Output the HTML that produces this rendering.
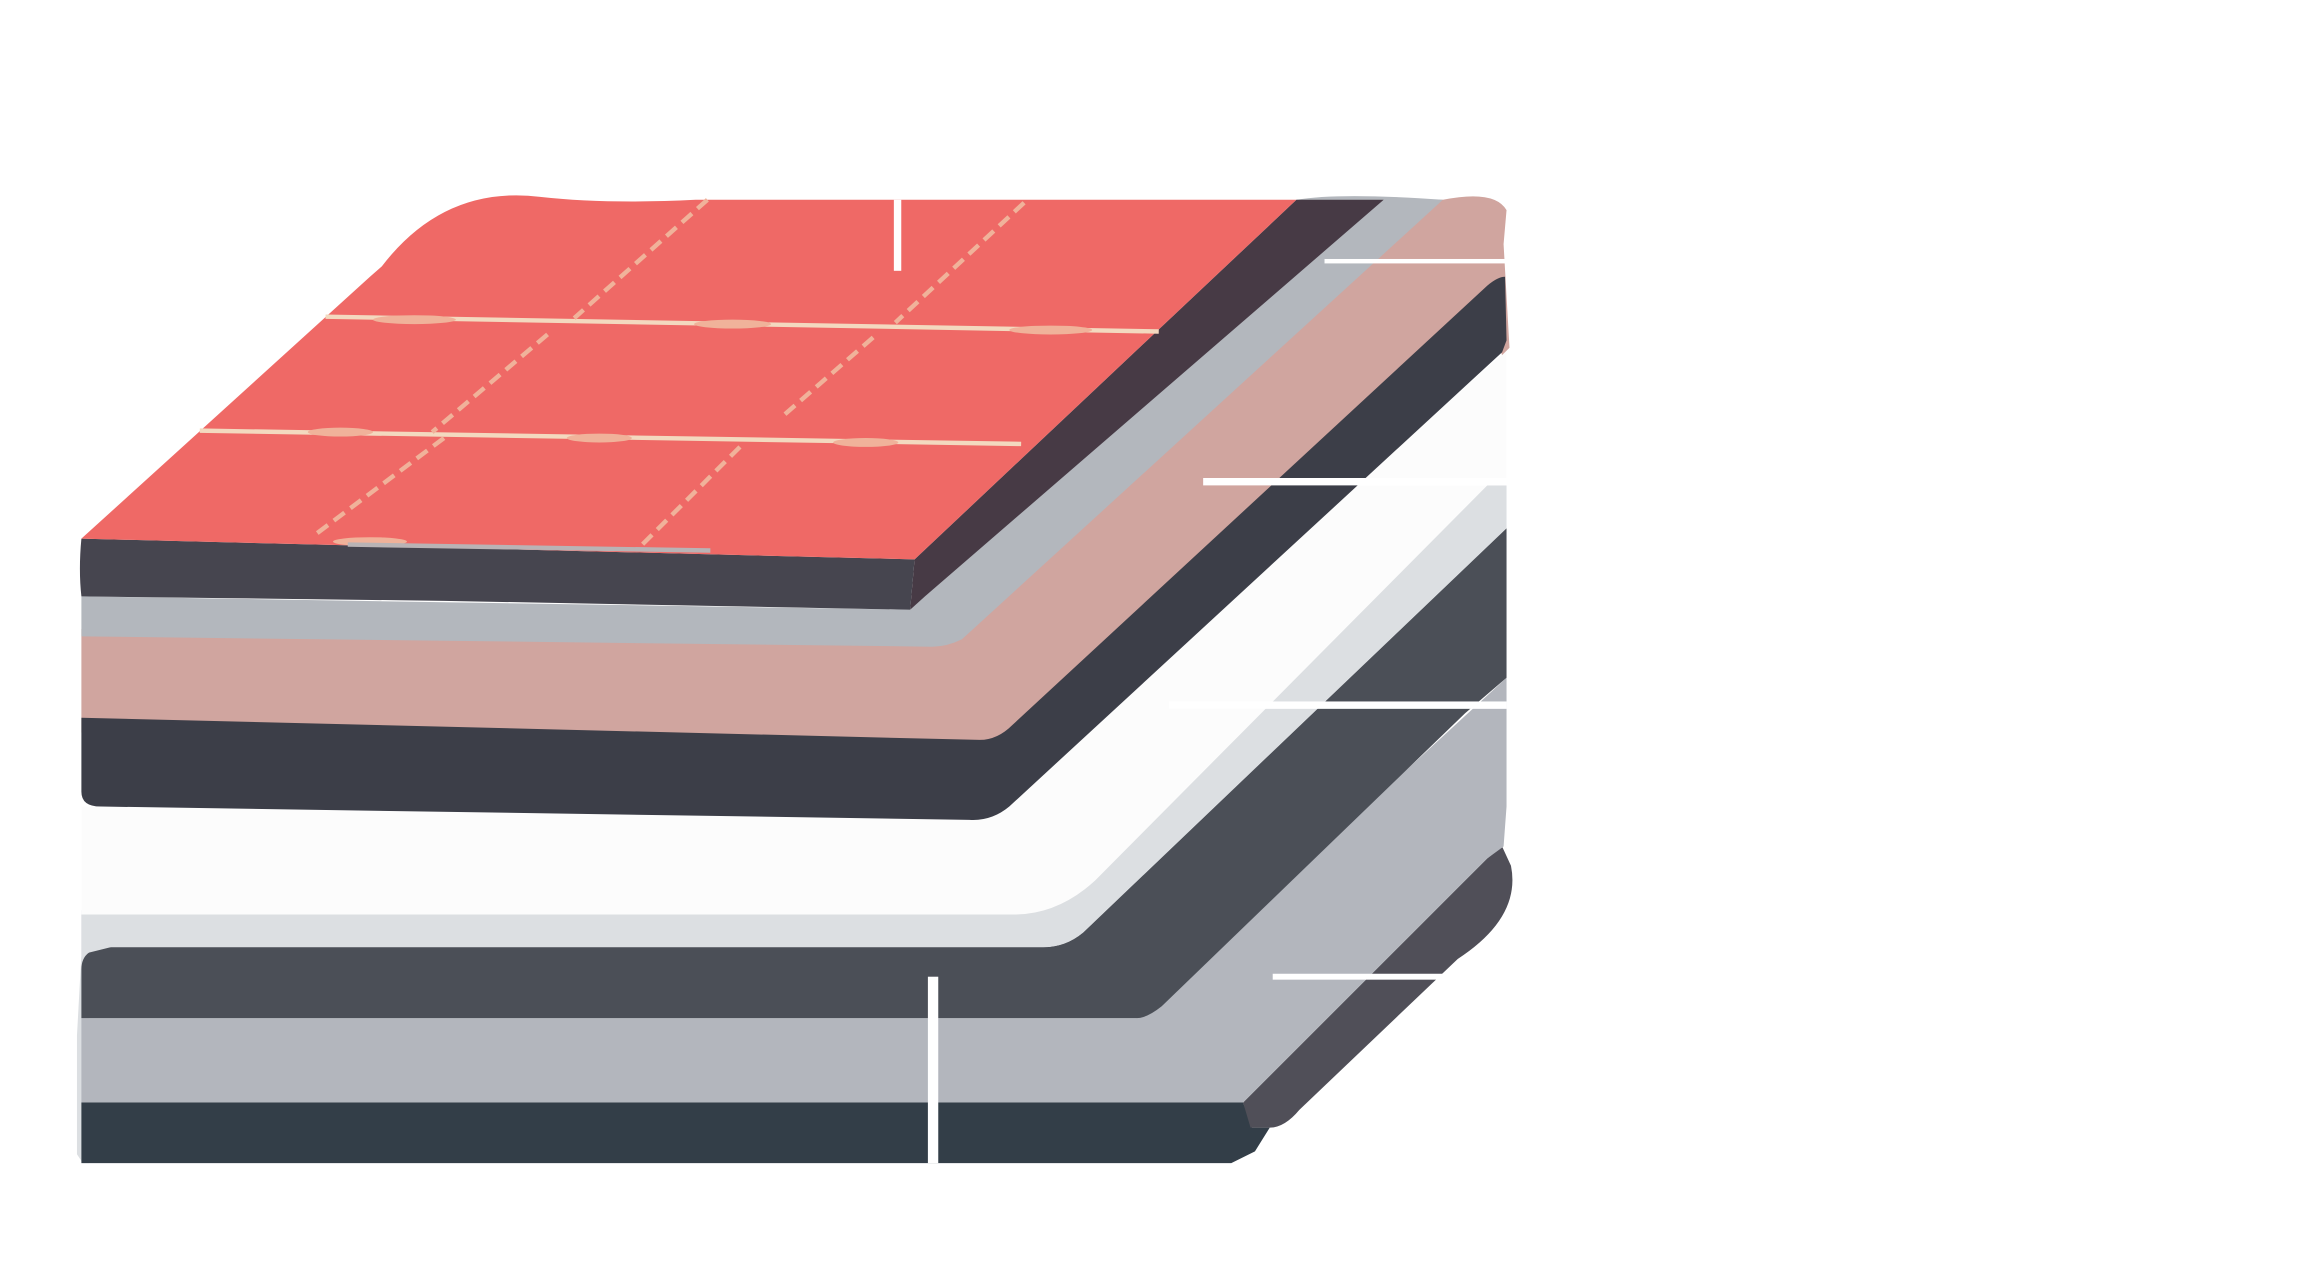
<!DOCTYPE html>
<html><head><meta charset="utf-8"><style>
html,body{margin:0;padding:0;background:#fff;width:2319px;height:1286px;overflow:hidden}
svg{display:block}
</style></head><body>
<svg width="2319" height="1286" viewBox="0 0 1567 869" preserveAspectRatio="none" xmlns="http://www.w3.org/2000/svg">
<rect width="1567" height="869" fill="#fff"/>
<path d="M55,615 L55,645 L52,700 L52,780 L56,786 L60,786 L60,620 Z" fill="#dcdfe2"/>
<path d="M55,745 L840,745 L846,762 L858,762 L848,778 L832,786 L55,786 Z" fill="#333e48"/>
<path d="M840,745 L955,630 L1005,580 L1015,572 L1021,585 Q1028,620 985,648 L878,750 Q868,762 858,762 L845,762 Z" fill="#504f58"/>
<path d="M55,688 L768,688 L1018,458 L1018,545 L1016,572 L1005,580 L955,630 L840,745 L55,745 Z" fill="#b3b6bd"/>
<path d="M55,655 Q55,640 75,640 L705,640 Q720,640 732,630 L1018,357 L1018,458 L990,482 L785,680 Q775,688 768,688 L55,688 Z" fill="#4b4f57"/>
<path d="M55,618 L685,618 L1005,328 L1018,328 L1018,357 L732,630 Q720,640 705,640 L75,640 L55,645 Z" fill="#dcdfe2"/>
<path d="M55,545 L655,553 L1018,237 L1018,328 L1005,328 L740,595 Q715,618 685,618 L55,618 Z" fill="#fcfcfc"/>
<path d="M55,425 L640,425 L935,135 L975,135 Q1010,128 1018,142 L1016,165 L1020,235 L1015,240 L1000,200 L695,505 L55,495 Z" fill="#d0a59f"/>
<path d="M55,485 L662,500 Q674,500 684,490 L1005,193 Q1012,187 1017,187 L1018,230 L1015,238 L682,545 Q670,555 655,554 L68,545 Q55,545 55,535 Z" fill="#3c3e48"/>
<path d="M55,403 L615,412 L876,135 Q905,130 975,135 L650,432 Q640,437 630,437 L55,430 Z" fill="#b3b7bd"/>
<path d="M876,135 L935,135 L625,403 L615,412 L618,378 Z" fill="#473a45"/>
<path d="M55,364 L618,378 L615,412 L300,406 L55,403 Q53,385 55,364 Z" fill="#46454f"/>
<path d="M55,364 L250,187 L258,180 Q300,125 365,133 Q410,138 470,135 L876,135 L618,378 Z" fill="#ef6966"/>
<g stroke="#f3d9bf" stroke-width="3" fill="none">
<path d="M220,214 L783,224"/>
<path d="M135,291 L690,300"/>
</g>
<g fill="#f0b29a">
<ellipse cx="280" cy="216" rx="28" ry="3"/>
<ellipse cx="495" cy="219" rx="26" ry="3"/>
<ellipse cx="710" cy="223" rx="28" ry="3"/>
<ellipse cx="230" cy="292" rx="22" ry="3"/>
<ellipse cx="405" cy="296" rx="22" ry="3"/>
<ellipse cx="585" cy="299" rx="22" ry="3"/>
<ellipse cx="250" cy="366" rx="25" ry="3"/>
</g>
<g stroke="#f0b29a" stroke-width="3" fill="none" stroke-dasharray="9,5">
<path d="M478,135 L388,215"/>
<path d="M370,226 L292,292"/>
<path d="M300,296 L212,362"/>
<path d="M692,137 L605,218"/>
<path d="M590,228 L528,282"/>
<path d="M500,302 L432,370"/>
</g>
<path d="M235,368 L480,372" stroke="#b9b3b5" stroke-width="3"/>
<g fill="#fff">
<rect x="604" y="135" width="5" height="48"/>
<rect x="895" y="175" width="123" height="3"/>
<rect x="813" y="323" width="250" height="5"/>
<rect x="790" y="474" width="228" height="5"/>
<rect x="860" y="658" width="115" height="4"/>
<rect x="627" y="660" width="7" height="126"/>
</g>
</svg>
</body></html>
